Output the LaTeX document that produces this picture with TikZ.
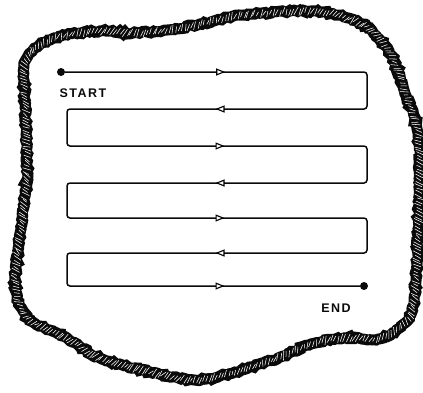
\documentclass[tikz,border=0pt]{standalone}
\usepackage{fontspec}
\setsansfont{Liberation Sans}
\usetikzlibrary{arrows.meta,positioning,decorations.markings,decorations.pathmorphing}
\definecolor{inkblack}{RGB}{10,10,10}
\tikzset{
  lbl/.style={font=\sffamily\bfseries\fontsize{12.5}{12.5}\selectfont\addfontfeatures{LetterSpace=12}, text=inkblack, inner sep=0pt},
  dot/.style={circle, fill=inkblack, minimum size=8pt, inner sep=0pt},
  track/.style={draw=inkblack, line width=1.5pt, rounded corners=3pt},
  midtip/.style={postaction={decorate}, decoration={markings, mark=at position #1 with {\arrow{Triangle[length=9pt,width=7pt,fill=white,line width=1.1pt]}}}},
  band/.style={draw=inkblack, line width=11pt, decorate, decoration={random steps, segment length=2.5pt, amplitude=1.2pt}},
  hatch/.style={decorate, decoration={markings, mark=between positions 0 and 1 step 3.2pt with {\draw[white, line width=0.55pt] ({-1.5pt+rand*1pt},{-3pt+rand*1.5pt}) -- ({1.5pt+rand*1pt},{3pt+rand*1.5pt});}}},
}
\def\blobline{plot[smooth cycle, tension=0.55] coordinates {(24,67) (33,50) (50,40) (67,35) (100,31) (133,33) (167,30) (200,24) (244,15) (311,11) (344,17) (368,28) (391,55) (404,90) (418,133) (419,196) (418,229) (416,279) (411,314) (398,329) (378,339) (344,338) (311,344) (278,358) (235,372) (195,380) (150,372) (100,358) (67,338) (33,322) (20,306) (15,279) (21,229) (25,196) (27,167) (25,100)}}

\begin{document}
\begin{tikzpicture}[x=1pt, y=-1pt]
  \pgfmathsetseed{7}
  \useasboundingbox (0,0) rectangle (423,392);
  % hatched outline
  \draw[band] \blobline;
  \path[hatch] \blobline;
  % serpentine track
  \foreach \i/\y in {0/72,1/109,2/146,3/183,4/218,5/253,6/286}{
    \coordinate (l\i) at (67,\y);
    \coordinate (r\i) at (367,\y);
  }
  \node[dot] (start) at (61,72) {};
  \node[dot] (end) at (364,286) {};
  \node[lbl] (startlbl) at (83,93) {START};
  \node[lbl] (endlbl) at (336,308) {END};
  \draw[track] (start) -- (r0) -- (r1) -- (l1) -- (l2) -- (r2) -- (r3) -- (l3) -- (l4) -- (r4) -- (r5) -- (l5) -- (l6) -- (end);
  \path[midtip=0.53] (start) -- (r0);
  \foreach \i in {2,4,6}{\path[midtip=0.525] (l\i) -- (r\i);}
  \foreach \i in {1,3,5}{\path[midtip=0.505] (r\i) -- (l\i);}
\end{tikzpicture}
\end{document}
